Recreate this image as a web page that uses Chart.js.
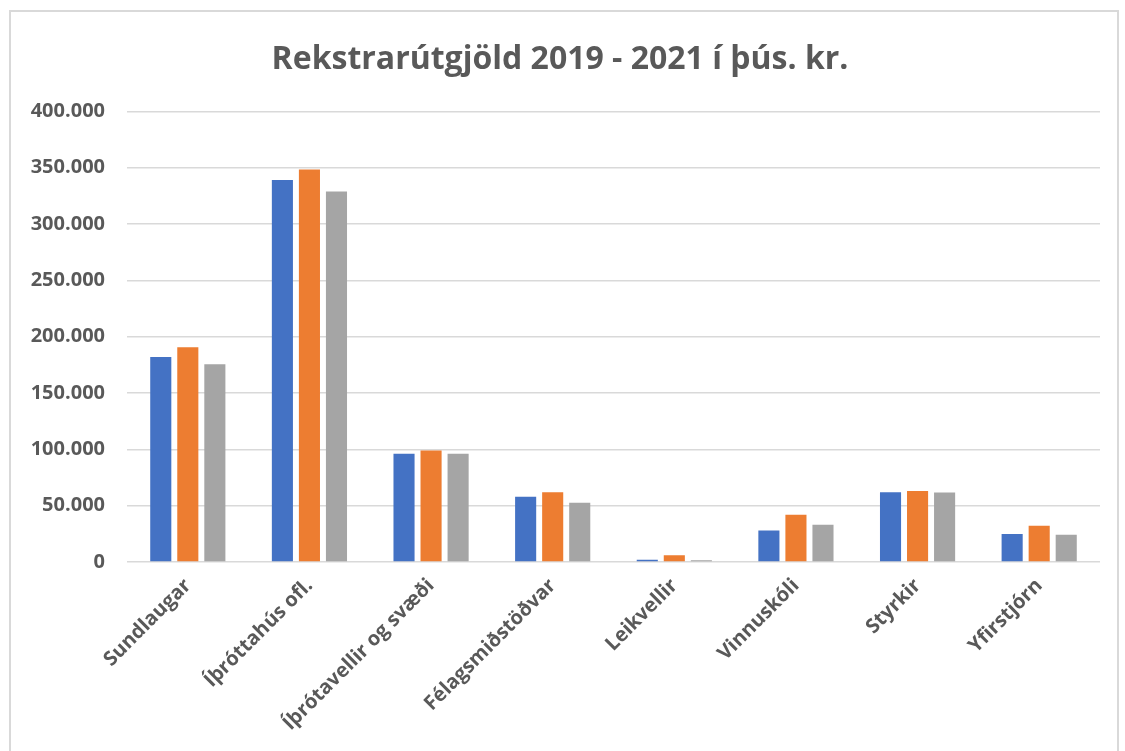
<!DOCTYPE html>
<html>
<head>
<meta charset="utf-8">
<script src="https://cdn.jsdelivr.net/npm/chart.js@4"></script>
<style>
    html, body { margin: 0; padding: 0; background: #fff; overflow: hidden; }
    #frame { position: absolute; left: 9px; top: 10px; width: 1110px; height: 760px; border: 2px solid #d9d9d9; box-sizing: border-box; }
    #wrap { position: absolute; left: 0; top: 0; width: 1125px; height: 751px; }
</style>
</head>
<body>
<div id="frame"></div>
<div id="wrap"><canvas id="chart"></canvas></div>
<script>
const categories = [
    "Sundlaugar",
    "Íþróttahús ofl.",
    "Íþrótavellir og svæði",
    "Félagsmiðstöðvar",
    "Leikvellir",
    "Vinnuskóli",
    "Styrkir",
    "Yfirstjórn",
];

const y2019 = [182000, 339000, 96000, 58000, 2000, 28000, 62000, 24800];
const y2020 = [190700, 348500, 99000, 62000, 6000, 42000, 63000, 32200];
const y2021 = [175600, 329000, 96000, 52500, 1500, 33000, 61700, 24200];

const colors = ["#4472C4", "#ED7D31", "#A5A5A5"];
const textColor = "#595959";

function fmt(v) {
    return String(v).replace(/\B(?=(\d{3})+(?!\d))/g, ".");
}

new Chart(document.getElementById("chart").getContext("2d"), {
    type: "bar",
    data: {
        labels: categories,
        datasets: [
            { label: "2019", data: y2019, backgroundColor: colors[0] },
            { label: "2020", data: y2020, backgroundColor: colors[1] },
            { label: "2021", data: y2021, backgroundColor: colors[2] },
        ],
    },
    options: {
        responsive: true,
        maintainAspectRatio: false,
        animation: false,
        categoryPercentage: 0.667,
        barPercentage: 0.78,
        layout: { padding: { left: 20, right: 25, top: 0, bottom: 0 } },
        plugins: {
            legend: { display: false },
            tooltip: { enabled: false },
            title: {
                display: true,
                text: "Rekstrarútgjöld 2019 - 2021 í þús. kr.",
                color: textColor,
                font: { family: "'Open Sans', sans-serif", size: 32, weight: "bold" },
                padding: { top: 41, bottom: 32 },
            },
        },
        scales: {
            x: {
                grid: { display: false },
                border: { display: false },
                ticks: {
                    color: textColor,
                    font: { family: "'Open Sans', sans-serif", size: 20, weight: "bold" },
                    minRotation: 45,
                    maxRotation: 45,
                    padding: 4,
                },
                afterFit: (scale) => { scale.height = 189; },
            },
            y: {
                min: 0,
                max: 400000,
                border: { display: false },
                grid: { color: "#d9d9d9", lineWidth: 1.5, drawTicks: false },
                ticks: {
                    stepSize: 50000,
                    color: textColor,
                    padding: 22,
                    font: { family: "'Open Sans', sans-serif", size: 20, weight: "bold" },
                    callback: (v) => fmt(v),
                },
                afterFit: (scale) => { scale.width = 107; },
            },
        },
    },
});
</script>
</body>
</html>
